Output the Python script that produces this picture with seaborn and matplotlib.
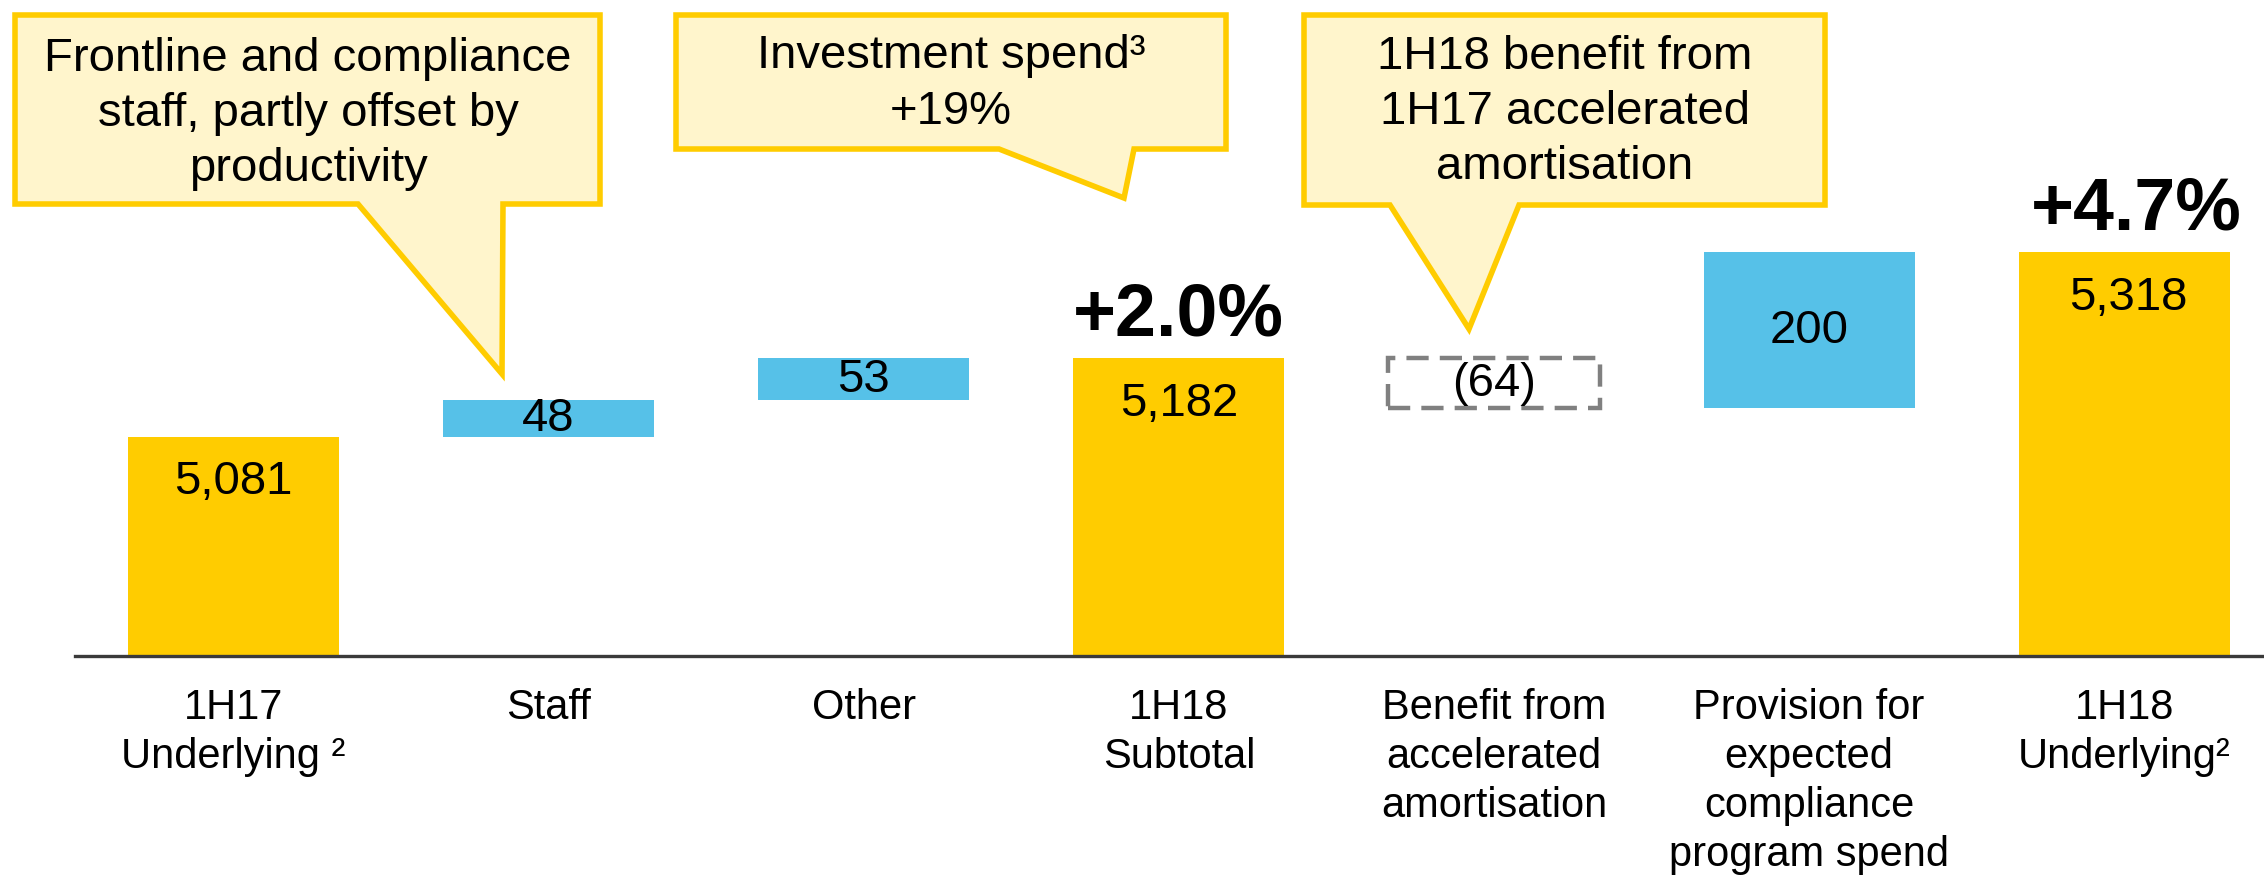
import numpy as np
import pandas as pd
import matplotlib.pyplot as plt
import seaborn as sns
from matplotlib.patches import Polygon

# data
labels = ["1H17\nUnderlying ²", "Staff", "Other", "1H18\nSubtotal",
          "Benefit from\naccelerated\namortisation",
          "Provision for\nexpected\ncompliance\nprogram spend",
          "1H18\nUnderlying²"]
total_idx = [0, 3, 6]
total_values = [5081, 5182, 5318]
change_idx = [1, 2, 4, 5]
change_values = [48, 53, -64, 200]

GOLD = "#FFCC00"
BLUE = "#56C1E8"
CALLOUT_FILL = "#FFF5CC"
GREY = "#808080"

sns.set_theme(style="white")
plt.rcParams['font.family'] = ['Liberation Sans', 'DejaVu Sans']

W, H = 2264, 878
fig = plt.figure(figsize=(W / 100, H / 100), dpi=100)
ax = fig.add_axes([75 / W, (H - 657) / H, (W - 75) / W, 657 / H])

# totals through seaborn
df_tot = pd.DataFrame({"item": [labels[i] for i in total_idx], "value": total_values})
sns.barplot(data=df_tot, x="item", y="value", order=labels, color=GOLD,
            saturation=1, width=0.67, errorbar=None, linewidth=0, ax=ax)

# floating changes
running = total_values[0]
bottoms, heights = [], []
for d in change_values:
    bottoms.append(min(running, running + d))
    heights.append(abs(d))
    running += d

for i, b, h, d in zip(change_idx, bottoms, heights, change_values):
    if d >= 0:
        ax.bar(i, h, bottom=b, width=0.67, color=BLUE, linewidth=0)
        txt = f"{d:,}"
    else:
        ax.bar(i, h, bottom=b, width=0.67, fill=False, edgecolor=GREY,
               linewidth=3.2, linestyle=(0, (5, 2.5)))
        txt = f"({abs(d)})"
    ax.text(i, b + h / 2, txt, ha="center", va="center", fontsize=34, color="black")

# totals labels
for i, v in zip(total_idx, total_values):
    ax.annotate(f"{v:,}", (i, v), xytext=(3 if i == 6 else 0, -32), textcoords="offset points",
                ha="center", va="center", fontsize=34, color="black")

# growth labels
for i, v, dx in [(3, total_values[1], 0), (6, total_values[2], 8.5)]:
    pct = (v / total_values[0] - 1) * 100
    ax.annotate(f"{pct:+.1f}%", (i, v), xytext=(dx, 17), textcoords="offset points",
                ha="center", va="baseline", fontsize=53, fontweight="bold", color="black")

ax.set_xlim(-0.502, 6.443)
ax.set_ylim(4800, 5643)
ax.set_yticks([])
ax.set_xlabel("")
ax.set_ylabel("")
ax.tick_params(axis="x", length=0, pad=22, labelsize=30, colors="black")
for t in ax.get_xticklabels():
    t.set_linespacing(1.3)
sns.despine(ax=ax, left=True)
ax.spines["bottom"].set_color("#3a3a3a")
ax.spines["bottom"].set_linewidth(2.4)


# callouts (figure pixel layout)
def callout(box, p1, p2, tip, text, tx, ty):
    l, t, r, b = box
    pts = [(l, t), (r, t), (r, b), (p2, b), tip, (p1, b), (l, b)]
    pts = [(x / W, 1 - y / H) for x, y in pts]
    poly = Polygon(pts, closed=True, transform=fig.transFigure, facecolor=CALLOUT_FILL,
                   edgecolor=GOLD, linewidth=4, joinstyle="miter", clip_on=False)
    fig.add_artist(poly)
    fig.text(tx / W, 1 - ty / H, text, ha="center", va="center", fontsize=34,
             linespacing=1.33, color="black")


callout((15, 16, 600, 205), 358, 503, (502, 375),
        "Frontline and compliance\nstaff, partly offset by\nproductivity", 308, 114)
callout((676, 16, 1226, 150), 999, 1134, (1124, 199),
        "Investment spend³\n+19%", 951, 84)
callout((1304, 16, 1825, 206), 1390, 1519, (1469, 330),
        "1H18 benefit from\n1H17 accelerated\namortisation", 1565, 112)

fig.savefig("out.png", dpi=100)
